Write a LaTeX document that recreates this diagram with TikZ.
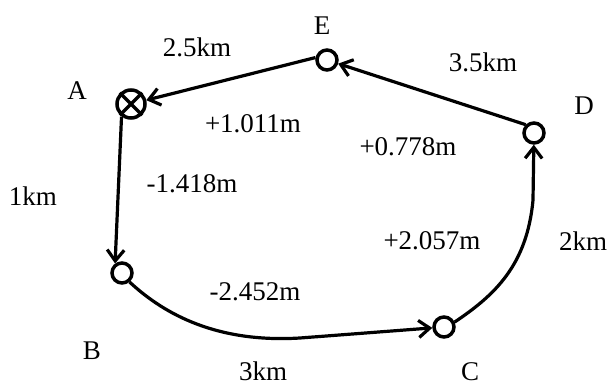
\documentclass[tikz,border=0pt]{standalone}
\usepackage{fontspec}
\setmainfont{Liberation Serif}
\usetikzlibrary{arrows.meta}

\begin{document}
\begin{tikzpicture}[x=1pt,y=-1pt,
  stn/.style={circle,draw,line width=3.5pt,minimum size=20pt,inner sep=0pt},
  home/.style={stn,minimum size=28pt},
  leg/.style={line width=3.2pt,-{Straight Barb[length=11pt,width=17pt]}},
  lbl/.style={inner sep=0pt,font=\fontsize{27}{32}\selectfont}]
  \useasboundingbox (0,0) rectangle (610,387);
  % --- stations ---
  \node[home] (a) at (131,104) {};
  \draw[line width=3.5pt] (a.45) -- (a.225) (a.135) -- (a.-45);
  \node[stn] (b) at (122,273) {};
  \node[stn] (c) at (444,327) {};
  \node[stn] (d) at (534,133) {};
  \node[stn] (e) at (327,60) {};
  % --- station names ---
  \node[lbl] (na) at (77,91) {A};
  \node[lbl] (nb) at (92,351) {B};
  \node[lbl] (nc) at (470,372) {C};
  \node[lbl] (nd) at (584,106) {D};
  \node[lbl] (ne) at (322,26) {E};
  % --- legs of the loop ---
  \draw[leg] (a.233) -- (b.126);
  \draw[leg] (b.-50) .. controls (165,315) and (218,343) .. (300,338) -- (c);
  \draw[leg] (c.25) .. controls (495,295) and (527,265) .. (533,200) -- (d);
  \draw[leg] (d.135) -- (e);
  \draw[leg] (e.168) -- (a);
  % --- distances ---
  \node[lbl] (dab) at (33,196) {1km};
  \node[lbl] (dbc) at (263,371) {3km};
  \node[lbl] (dcd) at (583,241) {2km};
  \node[lbl] (dde) at (483,62) {3.5km};
  \node[lbl] (dea) at (197,47) {2.5km};
  % --- height differences ---
  \node[lbl] (hab) at (192,184) {-1.418m};
  \node[lbl] (hbc) at (255,292) {-2.452m};
  \node[lbl] (hcd) at (432,241) {+2.057m};
  \node[lbl] (hde) at (408,147) {+0.778m};
  \node[lbl] (hea) at (253,124) {+1.011m};
\end{tikzpicture}
\end{document}
